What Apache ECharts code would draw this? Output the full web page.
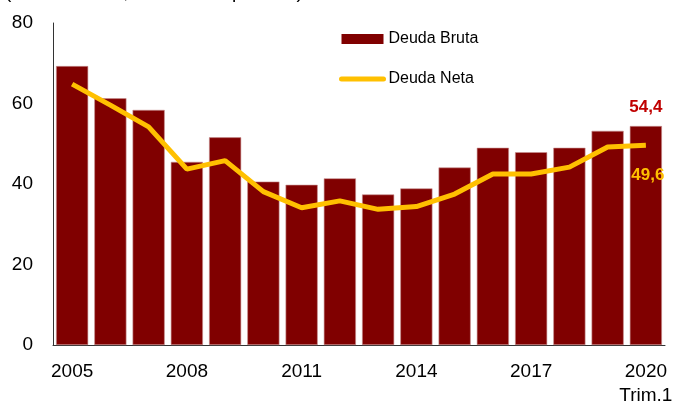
<!DOCTYPE html>
<html>
<head>
<meta charset="utf-8">
<script src="https://cdn.jsdelivr.net/npm/echarts@6/dist/echarts.min.js"></script>
<style>
  html, body { margin: 0; padding: 0; background: #fff; }
  #chart { width: 676px; height: 403px; }
</style>
</head>
<body>
<div id="chart"></div>
<script>
var years = ['2005', '2006', '2007', '2008', '2009', '2010', '2011', '2012',
  '2013', '2014', '2015', '2016', '2017', '2018', '2019', '2020'];
var deudaBruta = [69.3, 61.3, 58.4, 45.5, 51.6, 40.6, 39.8, 41.4, 37.4, 38.9, 44.1, 49.0, 47.9, 49.0, 53.2, 54.4];
var deudaNeta = [64.8, 59.6, 54.2, 43.7, 45.8, 38.1, 34.1, 35.8, 33.7, 34.4, 37.5, 42.5, 42.5, 44.2, 49.2, 49.6];
var yTicks = [0, 20, 40, 60, 80];
var lastNote = 'Trim.1';
var subtitle = '(En % del PIB, fin de cada período)';

var FONT = '"Liberation Sans", Arial, sans-serif';
var last = years.length - 1;

function fmt(v) {
  return v.toFixed(1).replace('.', ',');
}

var barData = deudaBruta.map(function(v, i) {
  if (i !== last) return v;
  return {
    value: v,
    label: {
      show: true, position: 'top', distance: 10,
      formatter: function(p) { return fmt(p.value); },
      color: '#c00000', fontWeight: 'bold', fontSize: 17, fontFamily: FONT
    }
  };
});

var lineData = deudaNeta.map(function(v, i) {
  if (i !== last) return v;
  return {
    value: v,
    label: {
      show: true, position: 'bottom', distance: 21, offset: [2, 0],
      formatter: function(p) { return fmt(p.value); },
      color: '#ffc000', fontWeight: 'bold', fontSize: 17, fontFamily: FONT
    }
  };
});

var chart = echarts.init(document.getElementById('chart'), null, { renderer: 'canvas' });
chart.setOption({
  animation: false,
  backgroundColor: '#fff',
  textStyle: { fontFamily: FONT },
  graphic: [{
    type: 'text',
    left: 5,
    top: -17,
    style: { text: subtitle, font: '19px ' + FONT, fill: '#000' }
  }],
  legend: {
    orient: 'vertical',
    left: 339,
    top: 31,
    padding: 0,
    itemWidth: 42,
    itemHeight: 10,
    itemGap: 24,
    textStyle: { fontSize: 16, color: '#000', fontFamily: FONT },
    data: [
      { name: 'Deuda Bruta', icon: 'rect', itemStyle: { borderWidth: 0 } },
      { name: 'Deuda Neta', itemStyle: { opacity: 0 }, lineStyle: { width: 5, color: '#ffc000', cap: 'round' } }
    ]
  },
  grid: { left: 53, right: 11, top: 23, bottom: 58, containLabel: false, outerBoundsMode: 'none' },
  xAxis: {
    type: 'category',
    data: years,
    axisLine: { lineStyle: { color: '#333', width: 1 } },
    axisTick: { show: false },
    axisLabel: {
      interval: 2,
      margin: 15,
      fontSize: 19,
      lineHeight: 24,
      color: '#000',
      fontFamily: FONT,
      formatter: function(v, i) {
        return i === last ? v + '\n' + lastNote : v;
      }
    }
  },
  yAxis: {
    type: 'value',
    min: yTicks[0],
    max: yTicks[yTicks.length - 1],
    interval: yTicks[1] - yTicks[0],
    axisLine: { show: true, lineStyle: { color: '#333', width: 1 } },
    axisTick: { show: false },
    splitLine: { show: false },
    axisLabel: { margin: 20, fontSize: 19, color: '#000', fontFamily: FONT }
  },
  series: [
    {
      name: 'Deuda Bruta',
      type: 'bar',
      data: barData,
      barCategoryGap: '16%',
      itemStyle: { color: '#800000', borderColor: '#c89090', borderWidth: 0.6 }
    },
    {
      name: 'Deuda Neta',
      type: 'line',
      data: lineData,
      symbol: 'circle',
      symbolSize: 0,
      showSymbol: true,
      lineStyle: { color: '#ffc000', width: 5 },
      itemStyle: { color: '#ffc000' }
    }
  ]
});
</script>
</body>
</html>
